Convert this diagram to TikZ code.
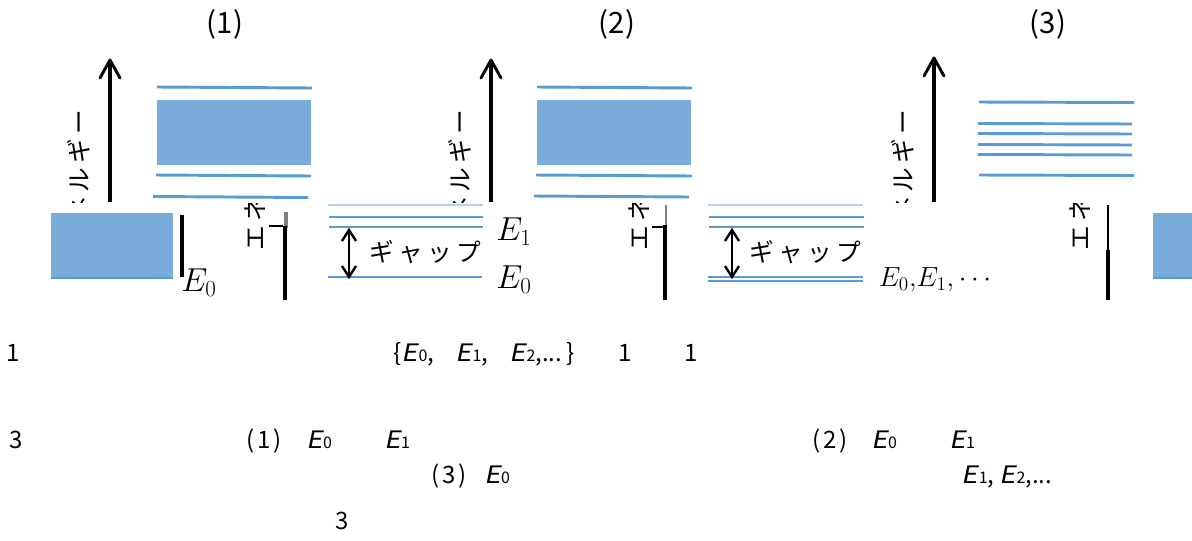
\documentclass[tikz,border=0pt]{standalone}
\usepackage{fontspec}
\setmainfont{Noto Sans CJK JP}
\newfontfamily\jpslant{Noto Sans CJK JP}[FakeSlant=0.2,FakeStretch=1.15]
\newcommand{\Ej}[1]{{\jpslant E}\kern0.5pt{\fontsize{12}{12}\selectfont #1}}
\newcommand{\jsp}{\hspace{3.2pt}}

\begin{document}
\begin{tikzpicture}[x=0.75pt,y=0.75pt,yscale=-1,xscale=1,
    enlevel/.style={draw={rgb, 255:red, 91; green, 155; blue, 213 }, line width=2.2},
    enband/.style={fill={rgb, 255:red, 122; green, 172; blue, 219 }, draw=none},
    enaxis/.style={line width=2.4},
    tiphead/.style={line width=2.2, line cap=round, line join=round},
    jp/.style={inner sep=0pt, font=\fontsize{18.5}{20}\selectfont},
    elabel/.style={inner sep=0pt, font=\fontsize{23}{25}\selectfont},
    note/.style={inner sep=0pt, anchor=base, font=\fontsize{18}{20}\selectfont},
    title/.style={inner sep=0pt, font=\fontsize{22}{24}\selectfont}]
\useasboundingbox (0,0) rectangle (1192,540);

\draw (225,24) node (tit1) [title] {(1)};
\draw (617,24) node (tit2) [title] {(2)};
\draw (1048,24) node (tit3) [title] {(3)};

\begin{scope}
\clip (0,0) rectangle (1192,202);
\draw (79,180) node (ylab1) [jp, rotate=90] {エ\jsp ネ\jsp ル\jsp ギ\jsp ー};
\draw (460,180) node (ylab2) [jp, rotate=90] {エ\jsp ネ\jsp ル\jsp ギ\jsp ー};
\draw (903,180) node (ylab3) [jp, rotate=90] {エ\jsp ネ\jsp ル\jsp ギ\jsp ー};
\end{scope}

\draw [enaxis] (110,202) -- (110,61);
\draw [tiphead, shift={(110,60)}, rotate=90] (18,-10) -- (0,0) -- (18,10);
\draw [enaxis] (491,202) -- (491,61);
\draw [tiphead, shift={(491,60)}, rotate=90] (18,-10) -- (0,0) -- (18,10);
\draw [enaxis] (934,202) -- (934,59);
\draw [tiphead, shift={(934,58)}, rotate=90] (18,-10) -- (0,0) -- (18,10);

\draw [enlevel] (157,87) -- (312,88);
\draw [enband] (157,100) rectangle (311,165);
\draw [enlevel] (156,175) -- (311,176);
\draw [enlevel] (153,196.5) -- (308,197.5);

\draw [enlevel] (537,87) -- (692,88);
\draw [enband] (537,100) rectangle (691,165);
\draw [enlevel] (536,175) -- (692,176);
\draw [enlevel] (534,196) -- (689,197);

\draw [enlevel] (979,102) -- (1134,102.5);
\draw [enlevel] (978,123.5) -- (1132,124);
\draw [enlevel] (978,133.5) -- (1132,134);
\draw [enlevel] (978,144.5) -- (1132,145);
\draw [enlevel] (978,154.5) -- (1132,155);
\draw [enlevel] (979,175) -- (1134,175.5);

\begin{scope}
\clip (0,203) rectangle (1192,310);
\draw (255,180) node (ylab1b) [jp, rotate=90] {エ\jsp ネ\jsp ル\jsp ギ\jsp ー};
\draw (639,180) node (ylab2b) [jp, rotate=90] {エ\jsp ネ\jsp ル\jsp ギ\jsp ー};
\draw (1080,180) node (ylab3b) [jp, rotate=90] {エ\jsp ネ\jsp ル\jsp ギ\jsp ー};
\draw [enlevel, draw opacity=0.45, line width=1.4] (328,205) -- (483,205);
\draw [enlevel, draw opacity=0.45, line width=1.4] (708,205) -- (863,205);
\end{scope}

\draw [enband] (51,213) rectangle (173,279);
\draw [enlevel] (51,278) -- (173,278);
\draw [enband] (1153,213) rectangle (1192,279);
\draw [enlevel] (1153,278) -- (1192,278);
\draw [line width=2.4] (182,215) -- (182,277);
\draw (199,283) node (e0a) [elabel] {$E_0$};

\draw [line width=2.4, color=gray] (286,212) -- (286,228);
\draw [line width=2.4] (285,226) -- (285,300);
\draw [line width=2] (269,226) -- (283,226);
\draw [line width=1, color=gray] (666,205) -- (666,227);
\draw [line width=2.4] (665,225) -- (665,300);
\draw [line width=2] (652,227) -- (663,227);
\draw [line width=1.2] (1108,205) -- (1108,250);
\draw [line width=2.6] (1108,250) -- (1108,300);

\draw [enlevel] (329,217) -- (483,217);
\draw [enlevel] (329,227) -- (483,227);
\draw [enlevel] (328,277) -- (482,277);
\coordinate (gapBtop) at (349,230);
\coordinate (gapBbot) at (349,277);
\draw [line width=1.8] (gapBtop) -- (gapBbot);
\draw [line width=1.8, shift={(gapBtop)}, rotate=90] (11,-7) -- (0,0) -- (11,7);
\draw [line width=1.8, shift={(gapBbot)}, rotate=270] (11,-7) -- (0,0) -- (11,7);
\draw (425,252) node (gapB) [jp] {ギ\jsp ャ\jsp ッ\jsp プ};
\draw (514,232) node (e1b) [elabel] {$E_1$};
\draw (514,280) node (e0b) [elabel] {$E_0$};

\draw [enlevel] (709,217) -- (864,217);
\draw [enlevel] (709,227) -- (864,227);
\draw [enlevel] (708,277) -- (863,277);
\draw [enlevel] (708,281) -- (863,281);
\coordinate (gapCtop) at (732,230);
\coordinate (gapCbot) at (732,277);
\draw [line width=1.8] (gapCtop) -- (gapCbot);
\draw [line width=1.8, shift={(gapCtop)}, rotate=90] (11,-7) -- (0,0) -- (11,7);
\draw [line width=1.8, shift={(gapCbot)}, rotate=270] (11,-7) -- (0,0) -- (11,7);
\draw (805,252) node (gapC) [jp] {ギ\jsp ャ\jsp ッ\jsp プ};
\draw (935,280) node (e01c) [elabel, font=\fontsize{22}{24}\selectfont] {$E_0{,}E_1{,}\cdots$};

\draw (13,361) node (txt1) [note] {1};
\draw (484,361) node (txtset) [note] {\{\Ej{0},\ \ \ \ \Ej{1},\ \ \ \ \Ej{2},...\,\}};
\draw (625,361) node (txt2) [note] {1};
\draw (691,361) node (txt3) [note] {1};
\draw (16,448) node (txt4) [note] {3};
\draw (264,448) node (txt5) [note] {(\kern2pt 1\kern2pt)};
\draw (319,448) node (txt6) [note] {\Ej{0}};
\draw (397,448) node (txt7) [note] {\Ej{1}};
\draw (830,448) node (txt8) [note] {(\kern2pt 2\kern2pt)};
\draw (884,448) node (txt9) [note] {\Ej{0}};
\draw (962,448) node (txt10) [note] {\Ej{1}};
\draw (449,483) node (txt11) [note] {(\kern2pt 3\kern2pt)};
\draw (497,483) node (txt12) [note] {\Ej{0}};
\draw (1007,483) node (txt13) [note] {\Ej{1}, \Ej{2},...};
\draw (342,529) node (txt14) [note] {3};
\end{tikzpicture}
\end{document}
